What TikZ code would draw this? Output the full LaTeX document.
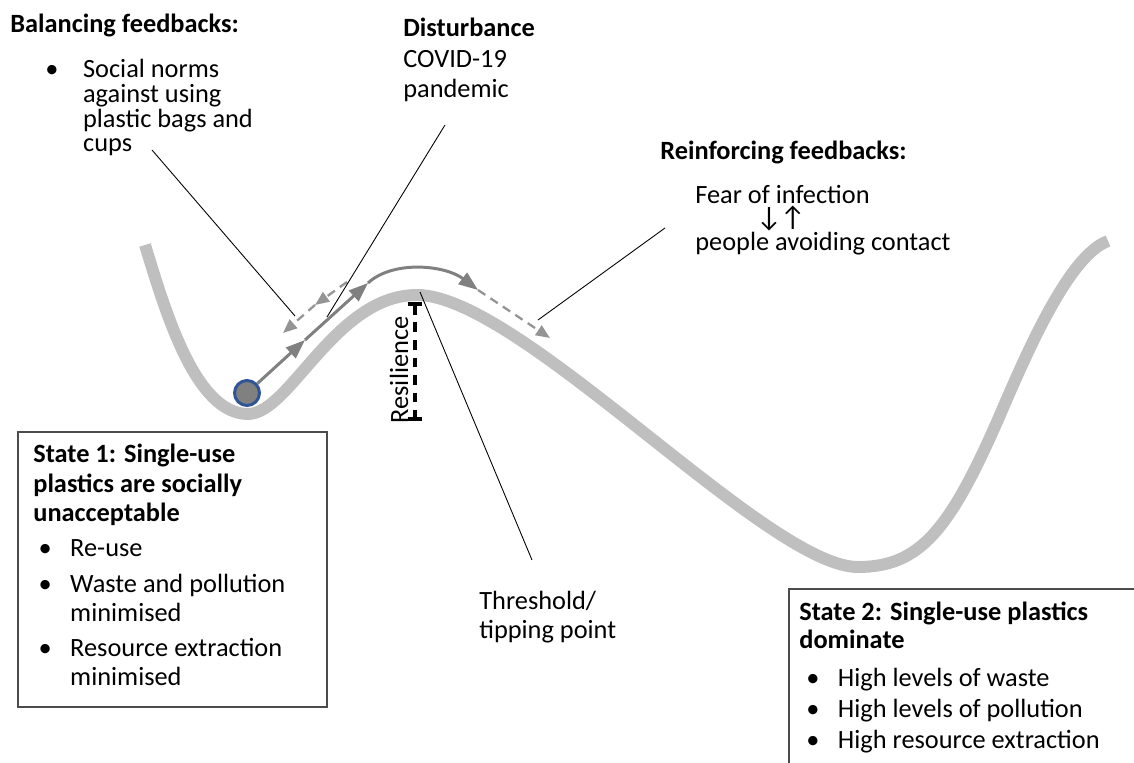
\documentclass[tikz,border=0pt]{standalone}
\usepackage{fontspec}
\setmainfont{Carlito}
\usetikzlibrary{arrows.meta}

\begin{document}
\begin{tikzpicture}[x=0.02cm, y=-0.02cm, font=\fontsize{15}{18}\selectfont]
    % Define styles
    \tikzset{
        valley/.style={draw=black!25, line width=6.8pt},
        ballpath/.style={draw=black!50, line width=1.7pt, -{Triangle[length=11pt, width=8pt]}},
        dashpath/.style={draw=black!42, line width=1.3pt, dash pattern=on 5pt off 3.5pt, -{Triangle[length=8pt, width=6.5pt]}},
        leader/.style={draw=black, line width=0.5pt},
        resbar/.style={draw=black, line width=2.2pt, dash pattern=on 5.5pt off 4.5pt, {Bar[width=8.5pt]}-{Bar[width=8.5pt]}},
        framebox/.style={draw=black!70, line width=0.6pt},
        txt/.style={anchor=base west, inner sep=0pt, align=left},
        heading/.style={txt, font=\fontsize{15}{18}\selectfont\bfseries}
    }

    % Page size
    \useasboundingbox (0,0) rectangle (1134,763);
    \clip (0,0) rectangle (1134,763);

    % Draw landscape
    \draw[valley] (145,245) .. controls (165,310) and (195,414) .. (248,414)
        .. controls (290,414) and (335,295) .. (417,295)
        .. controls (520,295) and (767,567) .. (858,567)
        .. controls (920,567) and (950,530) .. (1000,415)
        .. controls (1030,345) and (1070,255) .. (1108,241);

    % Ball and its path
    \node[circle, draw={rgb,255:red,47;green,85;blue,151}, line width=1.7pt, fill=black!50,
        minimum size=0.5cm, inner sep=0pt] (ball) at (247,393) {};
    \coordinate (up1) at (305,340);
    \coordinate (up2) at (368,283);
    \coordinate (over) at (478,290);
    \coordinate (down) at (550,338);
    \draw[ballpath] (ball) -- (up1);
    \draw[ballpath] (up1) -- (up2);
    \draw[ballpath] (up2) .. controls (393,260) and (445,265) .. (over);
    \draw[dashpath] (over) -- (down);

    % Balancing push back
    \coordinate (back0) at (347,282);
    \coordinate (back1) at (315,305);
    \coordinate (back2) at (283,333);
    \draw[dashpath] (back0) -- (back1);
    \draw[dashpath] (back1) -- (back2);

    % Resilience bar
    \coordinate (restop) at (415,302);
    \coordinate (resbot) at (415,421);
    \draw[resbar] (restop) -- (resbot);
    \node[rotate=90, inner sep=0pt] (resil) at (399,370) {Resilience};

    % Texts (multi-line nodes sit on their last baseline)
    \node[heading] (balhead) at (10,33) {Balancing feedbacks:};
    \node[txt, font=\fontsize{15}{14.2}\selectfont] (norms) at (45,152)
        {\makebox[21.5pt][l]{\textbullet}Social norms\\
         \hspace*{21.5pt}against using\\
         \hspace*{21.5pt}plastic bags and\\
         \hspace*{21.5pt}cups};
    \node[txt, font=\fontsize{15}{17.6}\selectfont] (dist) at (403,98)
        {\textbf{Disturbance}\\COVID-19\\pandemic};
    \node[heading] (reinhead) at (660,160) {Reinforcing feedbacks:};
    \node[txt] (fear) at (695,204) {Fear of infection};
    \node[txt, font=\fontsize{16}{18}\selectfont] (loop) at (756,227) {↓\kern-1pt↑};
    \node[txt] (avoid) at (695,251) {people avoiding contact};
    \node[txt, font=\fontsize{15}{16.8}\selectfont] (thresh) at (479,639)
        {Threshold/\\tipping point};

    % Leader lines
    \coordinate (balend) at (295,316);
    \coordinate (balstart) at (152,150);
    \draw[leader] (balstart) -- (balend);
    \coordinate (diststart) at (445,125);
    \coordinate (distend) at (327,317);
    \draw[leader] (diststart) -- (distend);
    \coordinate (peak) at (420,292);
    \coordinate (threshend) at (532,560);
    \draw[leader] (peak) -- (threshend);
    \coordinate (reinstart) at (665,228);
    \coordinate (reinend) at (538,320);
    \draw[leader] (reinstart) -- (reinend);

    % State boxes
    \draw[framebox] (18,432) rectangle (327,707);
    \node[txt, font=\fontsize{15}{16.7}\selectfont] (state1) at (33,686)
        {\textbf{State 1: Single-use}\\
         \textbf{plastics are socially}\\
         \textbf{unacceptable}\\[3.4pt]
         \hspace*{3pt}\makebox[18pt][l]{\textbullet}Re-use\\[3.4pt]
         \hspace*{3pt}\makebox[18pt][l]{\textbullet}Waste and pollution\\
         \hspace*{21pt}minimised\\[3.4pt]
         \hspace*{3pt}\makebox[18pt][l]{\textbullet}Resource extraction\\
         \hspace*{21pt}minimised};

    \draw[framebox] (1140,589) -| (789,770);
    \node[txt, font=\fontsize{15}{16.2}\selectfont] (state2) at (799,749)
        {\textbf{State 2: Single-use plastics}\\
         \textbf{dominate}\\[5.3pt]
         \hspace*{4pt}\makebox[18pt][l]{\textbullet}High levels of waste\\[1.65pt]
         \hspace*{4pt}\makebox[18pt][l]{\textbullet}High levels of pollution\\[1.65pt]
         \hspace*{4pt}\makebox[18pt][l]{\textbullet}High resource extraction};
\end{tikzpicture}
\end{document}
